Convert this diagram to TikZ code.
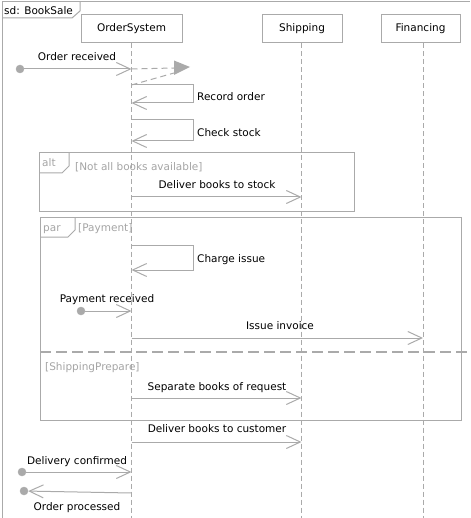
\documentclass[tikz,border=0pt]{standalone}
\usepackage{fontspec}
\setmainfont{DejaVu Sans}
\usetikzlibrary{arrows.meta}
\definecolor{lg}{RGB}{170,170,170}
\definecolor{cg}{RGB}{165,165,165}
\tikzset{
  lifebox/.style={draw=lg, line width=1pt, minimum width=#1, minimum height=28pt, inner sep=0pt, font=\fontsize{10.5}{12}\selectfont},
  lifeline/.style={draw=lg, line width=0.8pt, dash pattern=on 5pt off 3pt},
  msg/.style={draw=lg, line width=1pt, -{Straight Barb[length=14pt,width=13pt,line width=1pt]}},
  lbl/.style={inner sep=0pt, text depth=0pt, font=\fontsize{10.5}{12}\selectfont},
  cond/.style={inner sep=0pt, text depth=0pt, text=cg, font=\fontsize{10.5}{12}\selectfont},
  frame/.style={draw=lg, line width=1pt},
  gate/.style={circle, fill=lg, draw=lg, minimum size=8pt, inner sep=0pt},
  sep/.style={draw=lg, line width=2pt, dash pattern=on 11pt off 5pt},
}
\begin{document}
\begin{tikzpicture}[x=1pt,y=-1pt]
\useasboundingbox (0,0) rectangle (470,518);
\fill[white] (0,0) rectangle (470,518);
% outer frame
\draw[frame] (2,518) -- (2,2) -- (470,2);
\draw[frame] (2,18) -- (72,18) -- (80,11) -- (80,2);
\node[lbl, anchor=west] (sd) at (4,10.5) {sd: BookSale};
% lifeline heads
\node[lifebox=101pt] (os) at (131.5,29) {OrderSystem};
\node[lifebox=80pt] (sh) at (302,29) {Shipping};
\node[lifebox=79pt] (fi) at (420.5,29) {Financing};
\coordinate (osb) at (131.5,518);
\coordinate (shb) at (301.5,518);
\coordinate (fib) at (423,518);
\draw[lifeline] (os.south) -- (osb);
\draw[lifeline] ([xshift=-0.5pt]sh.south) -- (shb);
\draw[lifeline] (fi.south -| fib) -- (fib);
% Order received
\node[gate] (g1) at (20,69) {};
\coordinate (o1) at (131.5,69);
\draw[msg] (g1) -- (o1);
\node[lbl] (l1) at (77,57) {Order received};
% lost/dashed
\coordinate (d1) at (131.5,85);
\coordinate (tb) at (174,68);
\coordinate (tb2) at (174,73);
\coordinate (tt) at (190,67);
\draw[draw=lg, line width=1pt, dash pattern=on 6pt off 4pt] (o1) -- (tb);
\draw[draw=lg, line width=1pt, dash pattern=on 6pt off 4pt] (d1) -- (tb2);
\fill[lg] (174,60.5) -- (tt) -- (174,75) -- cycle;
% Record order
\coordinate (r1) at (193,85);
\coordinate (r2) at (193,103);
\coordinate (r3) at (131.5,103);
\draw[msg] (d1) -- (r1) -- (r2) -- (r3);
\node[lbl, anchor=west] (l2) at (197,96.5) {Record order};
% Check stock
\coordinate (c0) at (131.5,120);
\coordinate (c1) at (193,120);
\coordinate (c2) at (193,141);
\coordinate (c3) at (131.5,141);
\draw[msg] (c0) -- (c1) -- (c2) -- (c3);
\node[lbl, anchor=west] (l3) at (197,132.5) {Check stock};
% alt fragment
\draw[frame] (39,153) rectangle (354,212);
\draw[frame] (39,173) -- (62,173) -- (69,166) -- (69,153);
\node[cond, anchor=west] (alt) at (42,162.5) {alt};
\node[cond, anchor=west] (altc) at (75,166.5) {[Not all books available]};
\coordinate (a0) at (131.5,197);
\coordinate (a1) at (301.5,197);
\draw[msg] (a0) -- (a1);
\node[lbl] (l4) at (217,185) {Deliver books to stock};
% par fragment
\draw[frame] (40,218) rectangle (461,420);
\draw[frame] (40,237) -- (68,237) -- (75,230) -- (75,218);
\node[cond, anchor=west] (par) at (43,228.5) {par};
\node[cond, anchor=west] (parc) at (78,227.5) {[Payment]};
% Charge issue
\coordinate (ch0) at (131.5,245);
\coordinate (ch1) at (193,245);
\coordinate (ch2) at (193,270);
\coordinate (ch3) at (131.5,270);
\draw[msg] (ch0) -- (ch1) -- (ch2) -- (ch3);
\node[lbl, anchor=west] (l5) at (197,258.5) {Charge issue};
% Payment received
\node[gate] (g2) at (81,311) {};
\coordinate (p1) at (131.5,311);
\draw[msg] (g2) -- (p1);
\node[lbl] (l6) at (107,298.5) {Payment received};
% Issue invoice
\coordinate (i0) at (131.5,338);
\coordinate (i1) at (423,338);
\draw[msg] (i0) -- (i1);
\node[lbl] (l7) at (280,325.5) {Issue invoice};
% separator
\coordinate (s0) at (40,352);
\coordinate (s1) at (472,352);
\draw[sep] (s0) -- (s1);
\node[cond, anchor=west] (spc) at (45,366.5) {[ShippingPrepare]};
% Separate books
\coordinate (sb0) at (131.5,398);
\coordinate (sb1) at (301.5,398);
\draw[msg] (sb0) -- (sb1);
\node[lbl] (l8) at (217,386.5) {Separate books of request};
% Deliver books to customer
\coordinate (dc0) at (131.5,442);
\coordinate (dc1) at (301.5,442);
\draw[msg] (dc0) -- (dc1);
\node[lbl] (l9) at (217,428.5) {Deliver books to customer};
% Delivery confirmed
\node[gate] (g3) at (22,472) {};
\coordinate (dcf) at (131.5,472);
\draw[msg] (g3) -- (dcf);
\node[lbl] (l10) at (77,460.5) {Delivery confirmed};
% Order processed
\node[gate] (g4) at (24,491) {};
\coordinate (op0) at (131.5,493);
\draw[msg] (op0) -- (g4);
\node[lbl] (l11) at (77,506.5) {Order processed};
\end{tikzpicture}
\end{document}
